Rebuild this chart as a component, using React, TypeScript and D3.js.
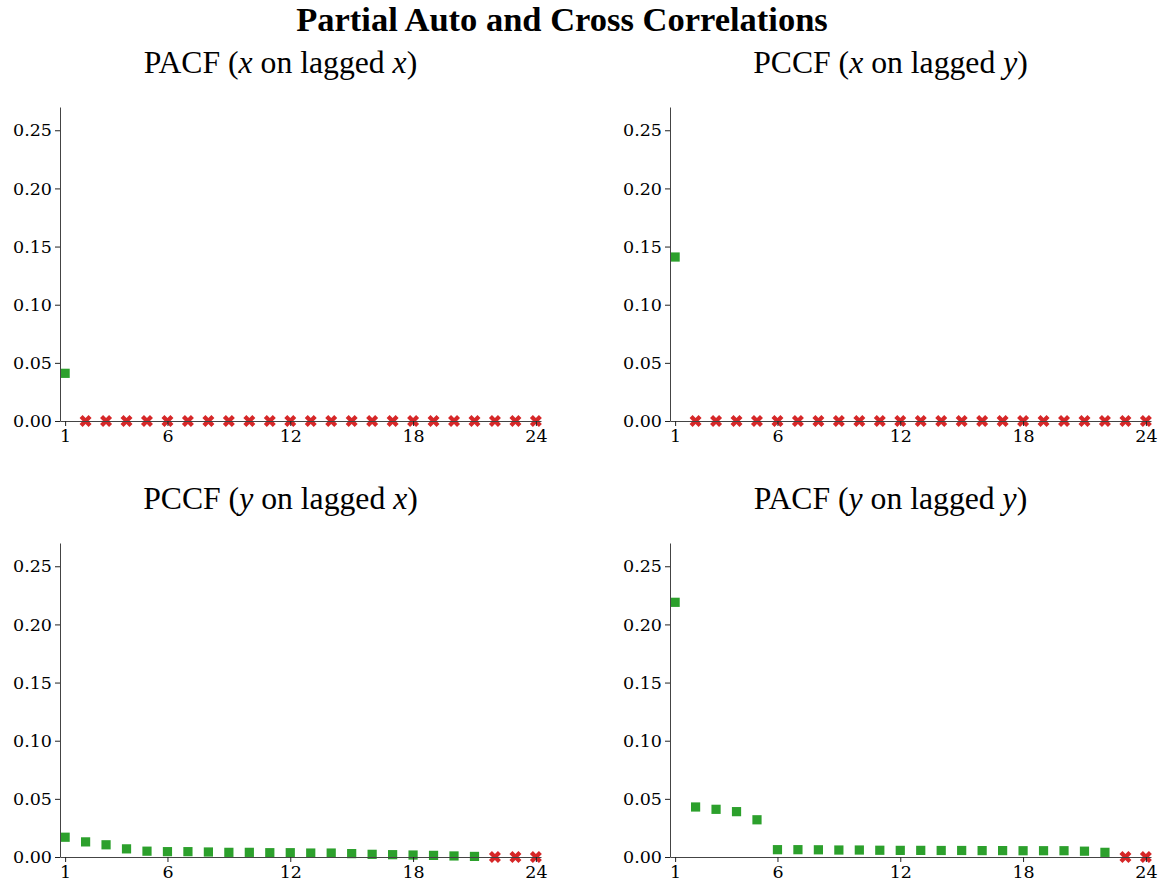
import React, { useEffect, useRef } from 'react';
import * as d3 from 'd3';

const lags = d3.range(1, 25);
const xTicks = [1, 6, 12, 18, 24];
const yTicks = [0, 0.05, 0.1, 0.15, 0.2, 0.25];

// 0 means not significant (drawn as red X)
const pacfXonX = [0.041, 0, 0, 0, 0, 0, 0, 0, 0, 0, 0, 0, 0, 0, 0, 0, 0, 0, 0, 0, 0, 0, 0, 0];
const pccfXonY = [0.141, 0, 0, 0, 0, 0, 0, 0, 0, 0, 0, 0, 0, 0, 0, 0, 0, 0, 0, 0, 0, 0, 0, 0];
const pccfYonX = [0.017, 0.013, 0.0105, 0.007, 0.005, 0.0046, 0.0046, 0.0043, 0.004, 0.004, 0.0037, 0.0037,
  0.0034, 0.0034, 0.0029, 0.0023, 0.002, 0.0017, 0.0014, 0.0009, 0.0005, 0, 0, 0];
const pacfYonY = [0.219, 0.043, 0.041, 0.039, 0.032, 0.0063, 0.0063, 0.0062, 0.006, 0.006, 0.0058, 0.0057,
  0.0057, 0.0056, 0.0056, 0.0055, 0.0055, 0.0054, 0.0054, 0.0054, 0.005, 0.004, 0, 0];

const panels = [
  { pre: 'PACF (', a: 'x', b: 'x', values: pacfXonX, left: 60, bottom: 421 },
  { pre: 'PCCF (', a: 'x', b: 'y', values: pccfXonY, left: 670, bottom: 421 },
  { pre: 'PCCF (', a: 'y', b: 'x', values: pccfYonX, left: 60, bottom: 857 },
  { pre: 'PACF (', a: 'y', b: 'y', values: pacfYonY, left: 670, bottom: 857 },
];

const W = 1161;
const H = 884;
const plotW = 481;
const plotH = 314;
const green = '#2ca02c';
const red = '#d62728';

export default function App() {
  const svgRef = useRef<SVGSVGElement>(null);

  useEffect(() => {
    document.body.style.margin = '0';
    const svg = d3.select(svgRef.current);
    svg.selectAll('*').remove();

    svg.append('text')
      .attr('x', 562)
      .attr('y', 31)
      .attr('text-anchor', 'middle')
      .attr('font-family', '"Liberation Serif", serif')
      .attr('font-weight', 'bold')
      .attr('font-size', 34.5)
      .text('Partial Auto and Cross Correlations');

    const cross = d3.symbol().type(d3.symbolCross).size(90);
    const square = d3.symbol().type(d3.symbolSquare).size(85);

    panels.forEach(p => {
      const x = d3.scaleLinear().domain([0.75, 24.25]).range([p.left, p.left + plotW]);
      const y = d3.scaleLinear().domain([0, 0.27]).range([p.bottom, p.bottom - plotH]);
      const g = svg.append('g');

      const t = g.append('text')
        .attr('x', p.left + plotW / 2 - 20)
        .attr('y', p.bottom - 348)
        .attr('text-anchor', 'middle')
        .attr('font-family', '"Liberation Serif", serif')
        .attr('font-size', 31.7);
      t.append('tspan').text(p.pre);
      t.append('tspan').attr('font-style', 'italic').text(p.a);
      t.append('tspan').text(' on lagged ');
      t.append('tspan').attr('font-style', 'italic').text(p.b);
      t.append('tspan').text(')');

      const pts = lags.map((lag, i) => ({ lag, v: p.values[i] }));

      g.selectAll('path.sq')
        .data(pts.filter(d => d.v > 0))
        .join('path')
        .attr('class', 'sq')
        .attr('d', square as any)
        .attr('transform', d => `translate(${x(d.lag)},${y(d.v)})`)
        .attr('fill', green);

      g.selectAll('path.xx')
        .data(pts.filter(d => d.v === 0))
        .join('path')
        .attr('class', 'xx')
        .attr('d', cross as any)
        .attr('transform', d => `translate(${x(d.lag)},${y(d.v)}) rotate(45)`)
        .attr('fill', red);

      const yAxis = g.append('g')
        .attr('transform', `translate(${p.left},0)`)
        .call(d3.axisLeft(y).tickValues(yTicks).tickFormat(d3.format('.2f')).tickSize(5).tickSizeOuter(0).tickPadding(3));
      const xAxis = g.append('g')
        .attr('transform', `translate(0,${p.bottom})`)
        .call(d3.axisBottom(x).tickValues(xTicks).tickFormat(d3.format('d')).tickSize(5).tickSizeOuter(0).tickPadding(4));

      [yAxis, xAxis].forEach(ax => {
        ax.selectAll('text')
          .attr('font-family', '"DejaVu Serif", serif')
          .attr('font-size', 17.5)
          .attr('fill', '#000');
        ax.select('.domain').attr('stroke', '#444');
        ax.selectAll('.tick line').attr('stroke', '#222');
      });
    });
  }, []);

  return (
    <svg ref={svgRef} width={W} height={H} style={{ display: 'block', background: '#fff' }}></svg>
  );
}
